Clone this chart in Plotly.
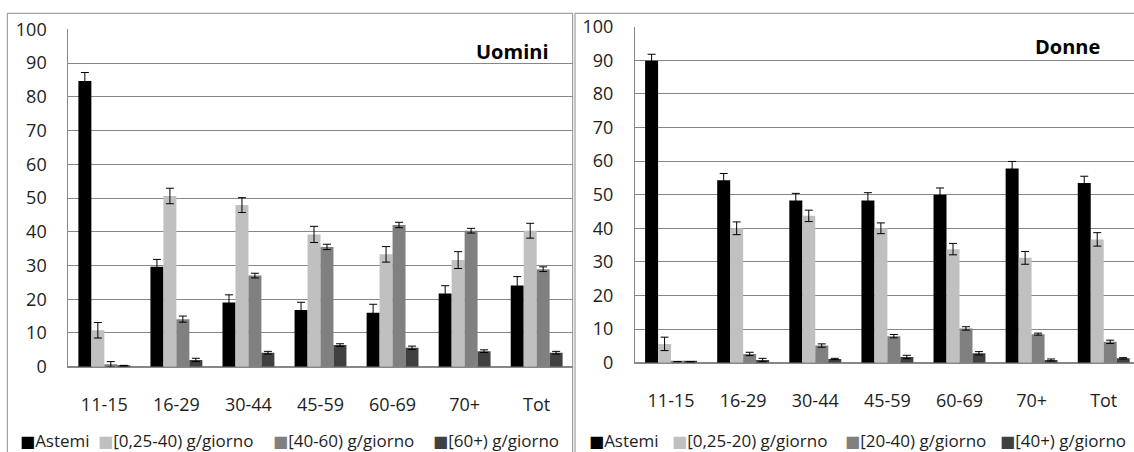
import plotly.graph_objects as go

W, H = 1134, 452

categories = ["11-15", "16-29", "30-44", "45-59", "60-69", "70+", "Tot"]

# Uomini
men_names = ["Astemi", "[0,25-40) g/giorno", "[40-60) g/giorno", "[60+) g/giorno"]
men_astemi = [84.7, 29.6, 19.0, 16.8, 16.0, 21.7, 24.1]
men_astemi_err = [2.5, 2.2, 2.3, 2.3, 2.5, 2.3, 2.6]
men_low = [10.8, 50.6, 47.9, 39.2, 33.3, 31.6, 40.3]
men_low_err = [2.3, 2.3, 2.2, 2.4, 2.3, 2.5, 2.2]
men_mid = [0.7, 14.1, 27.0, 35.5, 42.0, 40.3, 28.9]
men_mid_err = [0.8, 0.9, 0.7, 0.8, 0.8, 0.7, 0.7]
men_high = [0.3, 2.0, 4.15, 6.4, 5.6, 4.6, 4.15]
men_high_err = [0.1, 0.5, 0.4, 0.4, 0.5, 0.4, 0.4]

# Donne
women_names = ["Astemi", "[0,25-20) g/giorno", "[20-40) g/giorno", "[40+) g/giorno"]
women_astemi = [89.9, 54.3, 48.3, 48.3, 50.0, 57.8, 53.5]
women_astemi_err = [1.9, 2.0, 2.1, 2.3, 2.0, 2.1, 2.0]
women_low = [5.6, 40.0, 43.7, 40.0, 33.8, 31.2, 36.7]
women_low_err = [2.0, 1.9, 1.7, 1.6, 1.7, 1.9, 2.0]
women_mid = [0.3, 2.6, 5.1, 7.9, 10.2, 8.5, 6.2]
women_mid_err = [0.05, 0.5, 0.5, 0.5, 0.5, 0.3, 0.5]
women_high = [0.3, 0.8, 1.1, 1.7, 2.8, 0.8, 1.3]
women_high_err = [0.05, 0.5, 0.2, 0.5, 0.5, 0.3, 0.2]

colors = ["#000000", "#c0c0c0", "#808080", "#404040"]

FONT = "Open Sans"
TXT = "#1e1e1e"
GRID = "#878787"

fig = go.Figure()

men_vals = [men_astemi, men_low, men_mid, men_high]
men_errs = [men_astemi_err, men_low_err, men_mid_err, men_high_err]
women_vals = [women_astemi, women_low, women_mid, women_high]
women_errs = [women_astemi_err, women_low_err, women_mid_err, women_high_err]

for name, vals, errs, col in zip(men_names, men_vals, men_errs, colors):
    fig.add_trace(go.Bar(
        x=categories, y=vals, name=name, marker=dict(color=col, line=dict(width=0)),
        error_y=dict(type="data", array=errs, color="#000000", thickness=1, width=4),
        xaxis="x", yaxis="y", showlegend=False, offsetgroup=name + "m",
    ))
for name, vals, errs, col in zip(women_names, women_vals, women_errs, colors):
    fig.add_trace(go.Bar(
        x=categories, y=vals, name=name, marker=dict(color=col, line=dict(width=0)),
        error_y=dict(type="data", array=errs, color="#000000", thickness=1, width=4),
        xaxis="x2", yaxis="y2", showlegend=False, offsetgroup=name + "w",
    ))

def px_x(p):
    return p / W

def px_y(p):
    return 1 - p / H

yaxis_common = dict(
    range=[0, 100], dtick=10, showgrid=True, gridcolor=GRID, gridwidth=1,
    zeroline=True, zerolinecolor=GRID, zerolinewidth=1,
    showline=True, linecolor=GRID, linewidth=1,
    ticks="outside", ticklen=17, tickcolor="rgba(0,0,0,0)",
    tickfont=dict(family=FONT, size=18, color=TXT), fixedrange=True,
)
xaxis_common = dict(
    type="category", showgrid=False, zeroline=False,
    showline=True, linecolor=GRID, linewidth=1,
    ticks="outside", ticklen=22, tickcolor="rgba(0,0,0,0)",
    tickfont=dict(family=FONT, size=18, color=TXT), fixedrange=True,
)

fig.update_layout(
    width=W, height=H, autosize=False,
    margin=dict(l=0, r=0, t=0, b=0, pad=0, autoexpand=False),
    paper_bgcolor="white", plot_bgcolor="white",
    barmode="group", bargap=0.28, bargroupgap=0,
    showlegend=False,
    xaxis=dict(xaxis_common, domain=[px_x(68.3), px_x(572.7)], range=[-0.5, 6.5], anchor="y"),
    yaxis=dict(yaxis_common, domain=[px_y(366.7), px_y(29.3)], anchor="x"),
    xaxis2=dict(xaxis_common, domain=[px_x(635), 1.0], range=[-0.5, 6.42], anchor="y2"),
    yaxis2=dict(yaxis_common, domain=[px_y(362.7), px_y(26.7)], anchor="x2"),
)

# chart frames
fig.add_shape(type="rect", xref="paper", yref="paper",
              x0=px_x(7.3), x1=px_x(572.7), y0=-0.05, y1=px_y(13.3),
              line=dict(color="#8c8c8c", width=1), fillcolor="rgba(0,0,0,0)", layer="above")
fig.add_shape(type="rect", xref="paper", yref="paper",
              x0=px_x(575), x1=1.05, y0=-0.05, y1=px_y(13.3),
              line=dict(color="#8c8c8c", width=1), fillcolor="rgba(0,0,0,0)", layer="above")

# panel titles
fig.add_annotation(text="<b>Uomini</b>", xref="paper", yref="paper",
                   x=px_x(551), y=px_y(51.7), xanchor="right", yanchor="middle",
                   showarrow=False, font=dict(family=FONT, size=20, color="#000000"))
fig.add_annotation(text="<b>Donne</b>", xref="paper", yref="paper",
                   x=px_x(1102), y=px_y(46.7), xanchor="right", yanchor="middle",
                   showarrow=False, font=dict(family=FONT, size=20, color="#000000"))

# legends (as text rows)
men_leg_x = [19, 97, 272, 432]
women_leg_x = [588, 671, 844, 999]
for names, xs, ypos in ((men_names, men_leg_x, 440.0), (women_names, women_leg_x, 440.0)):
    for name, xp, col in zip(names, xs, colors):
        fig.add_annotation(
            text=f"<span style='color:{col};font-family:DejaVu Sans;font-size:16px'>■</span>{name}",
            xref="paper", yref="paper", x=px_x(xp), y=px_y(ypos),
            xanchor="left", yanchor="middle", showarrow=False, borderpad=0,
            font=dict(family=FONT, size=17, color=TXT),
        )

fig.write_html(
    "out.html",
    config={"displayModeBar": False, "responsive": False},
    post_script="document.body.style.margin='0';document.body.style.overflow='hidden';",
)
